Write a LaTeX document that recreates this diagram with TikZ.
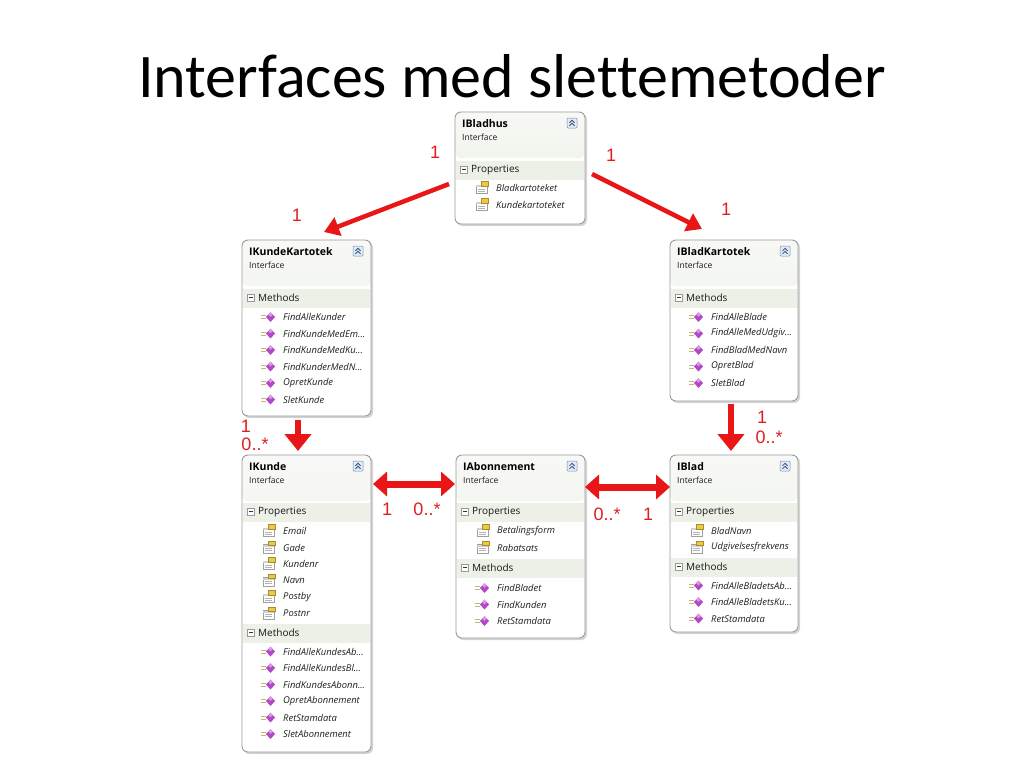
\documentclass[tikz,border=0pt]{standalone}
\usepackage{fontspec}
\setmainfont{Open Sans}
\newfontfamily\ttlfont[Ligatures=NoCommon]{Carlito}
\newfontfamily\lblfont{Liberation Sans}
\usetikzlibrary{arrows.meta}
\definecolor{arrred}{RGB}{232,22,22}
\definecolor{lblred}{RGB}{225,30,30}
\definecolor{boxborder}{RGB}{155,155,155}
\definecolor{hdtop}{RGB}{248,249,246}
\definecolor{hdbot}{RGB}{232,237,225}
\definecolor{bandc}{RGB}{236,240,231}
\definecolor{propyel}{RGB}{236,200,70}
\definecolor{propyeld}{RGB}{170,140,40}
\definecolor{methpurple}{RGB}{180,70,200}
\definecolor{methline}{RGB}{200,180,120}
\definecolor{iconblue}{RGB}{225,235,248}
\definecolor{iconborder}{RGB}{120,140,170}
\definecolor{iconarrow}{RGB}{60,80,120}
\newcount\nodeidx
\tikzset{
  classbox/.style={draw=boxborder, line width=0.9pt, rounded corners=6pt, fill=white,
    inner sep=0pt, outer sep=0pt,
    path picture={\shade[top color=hdtop,bottom color=hdbot]
      (path picture bounding box.north west) rectangle ([yshift=-46pt]path picture bounding box.north east);}},
  titletext/.style={font=\bfseries\fontsize{10.5}{12}\selectfont, inner sep=0pt, text=black},
  subtext/.style={font=\fontsize{8.5}{10}\selectfont, inner sep=0pt, text=black!90},
  sectext/.style={font=\fontsize{10}{12}\selectfont, inner sep=0pt, text=black!90},
  itemtext/.style={font=\itshape\fontsize{9.4}{11}\selectfont, inner sep=0pt, text=black!88},
  redlbl/.style={font=\lblfont\fontsize{18}{20}\selectfont, text=lblred, inner sep=0pt},
  diagarrow/.style={draw=arrred, line width=4.5pt, -{Triangle[width=19pt,length=15pt]}},
  downarrow/.style={draw=arrred, line width=5.5pt, -{Triangle[width=26pt,length=17pt]}},
  dblarrow/.style={draw=arrred, line width=7pt, {Triangle[width=24pt,length=14pt]}-{Triangle[width=24pt,length=14pt]}},
}
\newcommand\collapseicon[2]{%
  \filldraw[fill=iconblue, draw=iconborder, line width=0.5pt, rounded corners=1pt] (#1-5,#2-5) rectangle (#1+5,#2+5);
  \draw[iconarrow, line width=0.8pt] (#1-2.5,#2-0.2) -- (#1,#2-2.7) -- (#1+2.5,#2-0.2)
    (#1-2.5,#2+2.8) -- (#1,#2+0.3) -- (#1+2.5,#2+2.8);
}
\newcommand\umlbox[6]{% name, x0, y0, w, h, title
  \fill[black, opacity=0.07, rounded corners=6pt] (#2+1,#3+1) rectangle ++(#4+1,#5+1);
  \fill[black, opacity=0.10, rounded corners=6pt] (#2+2,#3+2) rectangle ++(#4,#5);
  \node[classbox, minimum width=#4pt, minimum height=#5pt, anchor=north west] (#1) at (#2,#3) {};
  \node[titletext, anchor=base west] (#1t) at (#2+7,#3+15) {#6};
  \node[subtext, anchor=base west] (#1s) at (#2+7,#3+28.5) {Interface};
  \collapseicon{#2+#4-13}{#3+11}
}
\newcommand\usec[4]{% x0, w, y, label
  \fill[bandc] (#1+0.7,#3-9.5) rectangle (#1+#2-0.7,#3+9.5);
  \filldraw[fill=white, draw=gray!80, line width=0.5pt] (#1+5.5,#3-4) rectangle (#1+12.5,#3+3);
  \draw[black!80, line width=0.8pt] (#1+7,#3-0.5) -- (#1+11,#3-0.5);
  \global\advance\nodeidx by 1
  \node[sectext, anchor=west] (sec\the\nodeidx) at (#1+16,#3) {#4};
}
\newcommand\propicon[2]{%
  \filldraw[fill=white, draw=gray!75, line width=0.5pt] (#1-6,#2-3) rectangle (#1+5,#2+5.5);
  \fill[gray!35] (#1-6,#2-3) rectangle (#1+5,#2-1);
  \draw[gray!60, line width=0.5pt] (#1-4,#2+0.8) -- (#1+3,#2+0.8) (#1-4,#2+3.2) -- (#1+3,#2+3.2);
  \filldraw[fill=propyel, draw=propyeld, line width=0.4pt] (#1-0.5,#2-6.5) rectangle (#1+6,#2-2);
}
\newcommand\methicon[2]{%
  \draw[methline, line width=0.7pt] (#1-8,#2-1.5) -- (#1-3,#2-1.5) (#1-8,#2+1.5) -- (#1-3,#2+1.5);
  \fill[methpurple] (#1+1.5,#2-5) -- (#1+6,#2) -- (#1+1.5,#2+5) -- (#1-3,#2) -- cycle;
  \fill[white, opacity=0.45] (#1+1.5,#2-5) -- (#1+3.8,#2-2.5) -- (#1+1.5,#2) -- (#1-0.8,#2-2.5) -- cycle;
}
\newcommand\uprop[3]{%
  \propicon{#1+27}{#2}
  \global\advance\nodeidx by 1
  \node[itemtext, anchor=west] (it\the\nodeidx) at (#1+41,#2) {#3};
}
\newcommand\umeth[3]{%
  \methicon{#1+27}{#2}
  \global\advance\nodeidx by 1
  \node[itemtext, anchor=west] (it\the\nodeidx) at (#1+41,#2) {#3};
}
\begin{document}
\begin{tikzpicture}[x=1pt,y=-1pt]
\useasboundingbox (0,0) rectangle (1024,768);
\fill[white] (0,0) rectangle (1024,768);

\node[font=\ttlfont\fontsize{62}{70}\selectfont, anchor=base, inner sep=0pt] (title) at (512,97) {Interfaces med slettemetoder};

% IBladhus
\umlbox{ibladhus}{455}{112}{130}{112}{IBladhus}
\usec{455}{130}{170}{Properties}
\uprop{455}{188}{Bladkartoteket}
\uprop{455}{205}{Kundekartoteket}

% IKundeKartotek
\umlbox{ikk}{242}{240}{129}{176}{IKundeKartotek}
\usec{242}{129}{298}{Methods}
\umeth{242}{317}{FindAlleKunder}
\umeth{242}{333.5}{FindKundeMedEm...}
\umeth{242}{350}{FindKundeMedKu...}
\umeth{242}{366.5}{FindKunderMedN...}
\umeth{242}{383}{OpretKunde}
\umeth{242}{399.5}{SletKunde}

% IBladKartotek
\umlbox{ibk}{670}{240}{128}{161}{IBladKartotek}
\usec{670}{128}{298}{Methods}
\umeth{670}{317}{FindAlleBlade}
\umeth{670}{333.5}{FindAlleMedUdgiv...}
\umeth{670}{350}{FindBladMedNavn}
\umeth{670}{366.5}{OpretBlad}
\umeth{670}{383}{SletBlad}

% IKunde
\umlbox{ikunde}{242}{455}{129}{297}{IKunde}
\usec{242}{129}{512}{Properties}
\uprop{242}{531}{Email}
\uprop{242}{547.5}{Gade}
\uprop{242}{564}{Kundenr}
\uprop{242}{580.5}{Navn}
\uprop{242}{597}{Postby}
\uprop{242}{613.5}{Postnr}
\usec{242}{129}{633}{Methods}
\umeth{242}{651.5}{FindAlleKundesAb...}
\umeth{242}{668}{FindAlleKundesBl...}
\umeth{242}{684.5}{FindKundesAbonn...}
\umeth{242}{701}{OpretAbonnement}
\umeth{242}{717.5}{RetStamdata}
\umeth{242}{734}{SletAbonnement}

% IAbonnement
\umlbox{iabon}{456}{455}{129}{183}{IAbonnement}
\usec{456}{129}{512}{Properties}
\uprop{456}{531}{Betalingsform}
\uprop{456}{547.5}{Rabatsats}
\usec{456}{129}{568}{Methods}
\umeth{456}{588}{FindBladet}
\umeth{456}{604.5}{FindKunden}
\umeth{456}{621}{RetStamdata}

% IBlad
\umlbox{iblad}{670}{455}{128}{177}{IBlad}
\usec{670}{128}{512}{Properties}
\uprop{670}{531}{BladNavn}
\uprop{670}{547.5}{Udgivelsesfrekvens}
\usec{670}{128}{567}{Methods}
\umeth{670}{585.5}{FindAlleBladetsAb...}
\umeth{670}{602}{FindAlleBladetsKu...}
\umeth{670}{618.5}{RetStamdata}

% connectors
\draw[diagarrow] ([xshift=-6pt,yshift=-16pt]ibladhus.west) -- ([xshift=17.5pt,yshift=8pt]ikk.north);
\draw[diagarrow] ([xshift=7pt,yshift=-6pt]ibladhus.east) -- ([xshift=-32pt,yshift=11pt]ibk.north);
\draw[downarrow] ([xshift=-8.5pt,yshift=-4pt]ikk.south) -- ([xshift=-8.5pt,yshift=4pt]ikunde.north);
\draw[downarrow] ([xshift=-3pt,yshift=-3pt]ibk.south) -- ([xshift=-3pt,yshift=4pt]iblad.north);
\draw[dblarrow] ([xshift=2pt,yshift=-29pt]ikunde.north east) -- ([xshift=-1pt,yshift=-29pt]iabon.north west);
\draw[dblarrow] ([xshift=0pt,yshift=-32pt]iabon.north east) -- ([xshift=0pt,yshift=-32pt]iblad.north west);

% multiplicities
\node[redlbl] (l1) at (435,152) {1};
\node[redlbl] (l2) at (611,155) {1};
\node[redlbl] (l3) at (297,215) {1};
\node[redlbl] (l4) at (726,209) {1};
\node[redlbl] (l5) at (246,426) {1};
\node[redlbl] (l6) at (255,444) {0..*};
\node[redlbl] (l7) at (762,417) {1};
\node[redlbl] (l8) at (769,437) {0..*};
\node[redlbl] (l9) at (387,509) {1};
\node[redlbl] (l10) at (427,509) {0..*};
\node[redlbl] (l11) at (607,514) {0..*};
\node[redlbl] (l12) at (648,514) {1};
\end{tikzpicture}
\end{document}
